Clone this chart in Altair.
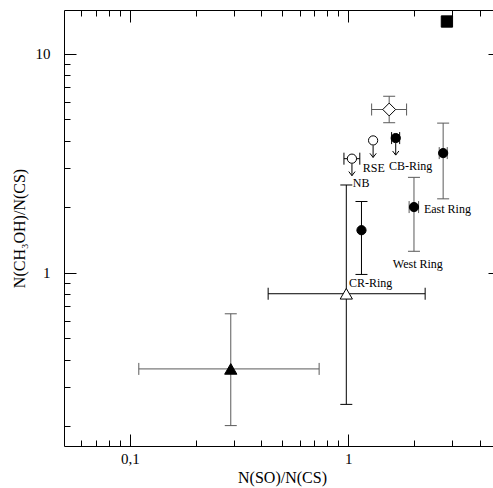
import altair as alt
import pandas as pd

# Column-density ratios per source: N(SO)/N(CS) and N(CH3OH)/N(CS)
so_cs       = [2.83, 1.54, 1.30, 1.65, 1.04, 2.72, 2.00, 1.15, 0.98, 0.29]
so_cs_lo    = [None, 1.28, None, 1.58, 0.956, 2.61, 1.90, None, 0.43, 0.11]
so_cs_hi    = [None, 1.85, None, 1.72, 1.13, 2.84, 2.10, None, 2.25, 0.736]
meth_cs     = [14.0, 5.55, 4.01, 4.11, 3.31, 3.51, 1.99, 1.56, 0.80, 0.363]
meth_cs_lo  = [None, 4.83, None, None, None, 2.17, 1.25, 0.98, 0.25, 0.20]
meth_cs_hi  = [None, 6.38, None, None, None, 4.81, 2.72, 2.11, 2.51, 0.648]
symbols     = ["square", "diamond", "circle", "circle", "circle",
               "circle", "circle", "circle", "triangle-up", "triangle-up"]
filled      = [True, False, False, True, False, True, True, True, False, True]
upper_limit = [False, False, True, True, True, False, False, False, False, False]
gray_bars   = [False, True, False, False, False, True, True, False, False, True]

# Region names
label_text = ["RSE", "CB-Ring", "NB", "East Ring", "West Ring", "CR-Ring"]
label_x    = [1.167, 1.536, 1.05, 2.22, 1.60, 1.007]
label_y    = [2.99, 3.08, 2.55, 1.96, 1.099, 0.891]

# Axis ticks
x_major = [0.1, 1]
x_minor = [0.06, 0.07, 0.08, 0.09, 0.2, 0.3, 0.4, 0.5, 0.6, 0.7, 0.8, 0.9, 2, 3, 4]
y_major = [1, 10]
y_minor = [0.2, 0.3, 0.4, 0.5, 0.6, 0.7, 0.8, 0.9, 2, 3, 4, 5, 6, 7, 8, 9]

W, H = 429, 436
SERIF = "Liberation Serif"

symbol_size = {"square": 128, "diamond": 165, "circle": 85, "triangle-up": 150}

df = pd.DataFrame({
    "x": so_cs, "xlo": so_cs_lo, "xhi": so_cs_hi,
    "y": meth_cs, "ylo": meth_cs_lo, "yhi": meth_cs_hi,
    "shape": symbols,
    "fill": ["black" if f else "white" for f in filled],
    "size": [symbol_size[s] for s in symbols],
    "bar": ["#5a5a5a" if g else "black" for g in gray_bars],
    "limit": upper_limit,
})
labels = pd.DataFrame({"text": label_text, "x": label_x, "y": label_y})

xs = alt.Scale(type="log", domain=[0.05, 4.6], nice=False)
ys = alt.Scale(type="log", domain=[0.1614, 15.8], nice=False)


def inner(orient, values, size, offset, domain=False):
    return alt.Axis(orient=orient, values=values, tickSize=size, offset=offset,
                    labels=False, title=None, domain=domain, ticks=True)


ax_x_main = alt.Axis(orient="bottom", values=x_major, ticks=False, tickSize=0,
                     labelExpr="replace(format(datum.value, '~g'), '.', ',')",
                     labelFontSize=15, labelPadding=5,
                     title="N(SO)/N(CS)", titleFontSize=16, titlePadding=3,
                     titleX=218, titleAlign="center")
ax_y_main = alt.Axis(orient="left", values=y_major, ticks=False, tickSize=0,
                     labelExpr="format(datum.value, '~g')",
                     labelFontSize=15, labelPadding=14,
                     title="N(CH\u2083OH)/N(CS)", titleFontSize=16, titlePadding=8)

def X(field, axis=None):
    return alt.X(f"{field}:Q", scale=xs, axis=axis)

def Y(field, axis=None):
    return alt.Y(f"{field}:Q", scale=ys, axis=axis)

base = alt.Chart(df)

# horizontal error bars
xbars = base.mark_rule(strokeWidth=1).encode(
    x=X("xlo", ax_x_main), x2="xhi", y=Y("y", ax_y_main),
    color=alt.Color("bar:N", scale=None))

# vertical error bars
ybars = base.mark_rule(strokeWidth=1).encode(
    x=X("x", inner("top", x_major, 12, -H)),
    y=Y("ylo", inner("right", y_major, 12, -W)), y2="yhi",
    color=alt.Color("bar:N", scale=None))

# caps of horizontal bars
xcap_lo = base.mark_rule(strokeWidth=1, yOffset=-6, y2Offset=6).encode(
    x=X("xlo", inner("top", x_minor, 6, -H)),
    y=Y("y", inner("right", y_minor, 6, -W)), y2="y",
    color=alt.Color("bar:N", scale=None))
xcap_hi = base.mark_rule(strokeWidth=1, yOffset=-6, y2Offset=6).encode(
    x=X("xhi", inner("bottom", x_major, 12, -H, domain=True)),
    y=Y("y", inner("left", y_major, 5, -W)), y2="y",
    color=alt.Color("bar:N", scale=None))

# caps of vertical bars
ycap_lo = base.mark_rule(strokeWidth=1, xOffset=-6, x2Offset=6).encode(
    x=X("x", inner("bottom", x_minor, 6, -H)), x2="x",
    y=Y("ylo"),
    color=alt.Color("bar:N", scale=None))
ycap_hi = base.mark_rule(strokeWidth=1, xOffset=-6, x2Offset=6).encode(
    x=X("x"), x2="x", y=Y("yhi"),
    color=alt.Color("bar:N", scale=None))

# upper-limit arrows
limits = base.transform_filter("datum.limit")
arrow_shaft = limits.mark_rule(strokeWidth=1, color="black", yOffset=5, y2Offset=17).encode(
    x=X("x"), y=Y("y"), y2="y")
arrow_head = limits.mark_point(
    shape="M-1,-1.3L0,0L1,-1.3", size=40, filled=False, stroke="black",
    strokeWidth=1, opacity=1, yOffset=17).encode(x=X("x"), y=Y("y"))

points = base.mark_point(filled=True, opacity=1, stroke="black", strokeWidth=1).encode(
    x=X("x"), y=Y("y"),
    shape=alt.Shape("shape:N", scale=None),
    fill=alt.Fill("fill:N", scale=None),
    size=alt.Size("size:Q", scale=None))

text = alt.Chart(labels).mark_text(
    align="left", baseline="middle", font=SERIF, fontSize=12, color="black"
).encode(x=X("x"), y=Y("y"), text="text:N")

chart = alt.layer(
    xbars, ybars, xcap_lo, xcap_hi, ycap_lo, ycap_hi,
    arrow_shaft, arrow_head, points, text
).resolve_axis(x="independent", y="independent").properties(
    width=W, height=H,
    autosize=alt.AutoSizeParams(type="none"),
    padding={"left": 64, "top": 10, "right": 0, "bottom": 42},
    background="white",
).configure_view(stroke=None).configure_axis(
    grid=False, domainColor="black", domainWidth=1, tickColor="black", tickWidth=1,
    labelColor="black", titleColor="black", labelFont=SERIF, titleFont=SERIF,
    titleFontWeight="normal",
)

chart.save("out.html", embed_options={"renderer": "svg", "actions": False})
